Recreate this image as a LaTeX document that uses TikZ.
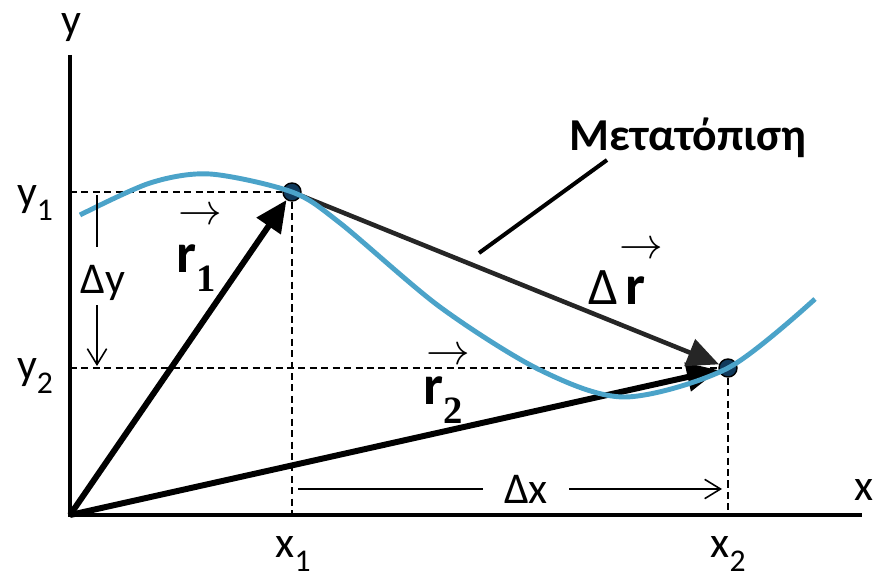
\documentclass[tikz,border=0pt]{standalone}
\usepackage{fontspec}
\setmainfont{Carlito}
\newfontfamily\idxserif{Liberation Serif}
\usetikzlibrary{arrows.meta,positioning}
\definecolor{pathblue}{RGB}{75,163,201}
\definecolor{dotblue}{RGB}{16,58,92}
\definecolor{dispgray}{RGB}{38,38,38}
\newcommand{\lowidx}[1]{\raisebox{-0.32em}{\fontsize{18}{20}\selectfont #1}}
\newcommand{\vecidx}[1]{\raisebox{-0.35em}{\fontsize{22}{24}\selectfont\idxserif\bfseries #1}}

\begin{document}
\begin{tikzpicture}[
    x=0.02cm, y=-0.02cm,
    font=\fontsize{25}{30}\selectfont,
    axis/.style={line width=2.8pt, draw=black},
    vec/.style={-{Triangle[length=18pt,width=16pt]}, line width=3.4pt, draw=black},
    disp/.style={-{Triangle[length=18pt,width=16pt]}, line width=2.6pt, draw=dispgray},
    guide/.style={dash pattern=on 4pt off 2.5pt, line width=0.8pt},
    dim/.style={line width=0.9pt, -{Straight Barb[length=9pt,width=11pt]}},
    ptdot/.style={circle, minimum size=3.6mm, inner sep=0pt, fill=dotblue, draw=black, line width=0.8pt},
    rlab/.style={font=\bfseries\fontsize{32}{36}\selectfont, inner sep=0pt},
    harr/.style={font=\fontsize{24}{26}\selectfont, inner sep=0pt}
  ]
  \useasboundingbox (0,0) rectangle (875,581);
  \coordinate (O) at (70,515);
  \coordinate (ytop) at (70,55);
  \coordinate (xend) at (862,515);
  \node[ptdot] (P1) at (292,192) {};
  \node[ptdot] (P2) at (728,368) {};
  % projections on the axes
  \draw[guide] (O |- P1) -- (P1); \draw[guide] (P1) -- (P1 |- O);
  \draw[guide] (O |- P2) -- (P2); \draw[guide] (P2) -- (P2 |- O);
  \draw[axis] (ytop) -- (O) -- (xend);
  \draw[vec] (O) -- (P1); \draw[vec] (O) -- (P2);
  \draw[disp] (P1) -- (P2);
  \draw[pathblue, line width=2.8pt] plot[smooth] coordinates {(80,215) (150,183) (210,174) (292,192)
    (340,223) (440,307) (540,370) (625,397) (728,368) (815,299)};
  \node (ylab) at (71,28) {y};
  \node (xlab) at (864,490) {x};
  \node (y1) at (35,203) {y\lowidx{1}};
  \node (y2) at (35,376) {y\lowidx{2}};
  \node (x1) at (293,554) {x\lowidx{1}};
  \node (x2) at (728,554) {x\lowidx{2}};
  % Delta y and Delta x
  \coordinate (dya) at (97,195); \coordinate (dyb) at (97,247);
  \coordinate (dyc) at (97,305); \coordinate (dyd) at (97,366);
  \node (dy) at (103,283) {Δy};
  \draw[line width=0.9pt] (dya) -- (dyb); \draw[dim] (dyc) -- (dyd);
  \coordinate (dxa) at (298,489); \coordinate (dxd) at (722,489);
  \node[inner xsep=4.2mm] (dx) at (526,489) {Δx};
  \draw[line width=0.9pt] (dxa) -- (dx); \draw[dim] (dx) -- (dxd);
  % vector labels
  \node[rlab] (r1) at (196,268) {r\vecidx{1}};
  \node[harr] (r1h) at (200,216) {$\rightarrow$};
  \node[rlab] (r2) at (443,400) {r\vecidx{2}};
  \node[harr] (r2h) at (448,356) {$\rightarrow$};
  \node (dr) at (617,288) {{\fontsize{30}{34}\selectfont Δ}\hspace{4pt}{\bfseries\fontsize{32}{36}\selectfont r}};
  \node[harr] (drh) at (641,250) {$\rightarrow$};
  \node[font=\bfseries\fontsize{26}{30}\selectfont] (disptxt) at (688,138) {Μετατόπιση};
  \coordinate (lda) at (479,253); \coordinate (ldb) at (607,160);
  \draw[line width=2.3pt] (lda) -- (ldb);
\end{tikzpicture}
\end{document}
